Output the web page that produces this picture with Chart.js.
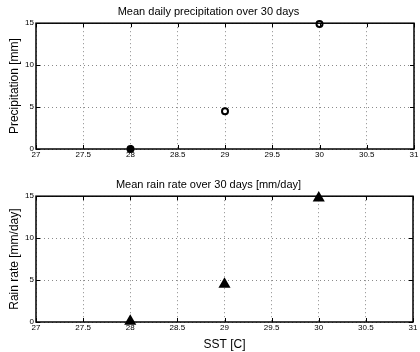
<!DOCTYPE html>
<html>
<head>
<meta charset="utf-8">
<script src="https://cdn.jsdelivr.net/npm/chart.js@4/dist/chart.umd.min.js"></script>
<style>
  html, body { margin: 0; padding: 0; background: #fff; }
  .panel { position: absolute; left: 0; width: 420px; height: 176px; }
  #top { top: 0; }
  #bottom { top: 176px; }
</style>
</head>
<body>
<div class="panel" id="top"><canvas id="precipChart"></canvas></div>
<div class="panel" id="bottom"><canvas id="rainChart"></canvas></div>
<script>
// data
const sst = [28, 29, 30];
const precip = [0.0, 4.5, 14.9];
const rainRate = [0.1, 4.5, 14.8];
const xTicks = [27, 27.5, 28, 28.5, 29, 29.5, 30, 30.5, 31];
const yTicks = [0, 5, 10, 15];

const FONT = 'Liberation Sans, Arial, Helvetica, sans-serif';

// box frame + inward ticks, like matlab axes
const boxPlugin = {
    id: 'box',
    afterDraw(chart) {
        const ctx = chart.ctx;
        const a = chart.chartArea;
        const xs = chart.scales.x, ys = chart.scales.y;
        ctx.save();
        ctx.strokeStyle = '#000';
        ctx.lineWidth = 1;
        ctx.setLineDash([]);
        ctx.beginPath();
        xTicks.forEach(v => {
            const px = Math.round(xs.getPixelForValue(v)) + 0.5;
            ctx.moveTo(px, a.bottom); ctx.lineTo(px, a.bottom - 4);
            ctx.moveTo(px, a.top); ctx.lineTo(px, a.top + 4);
        });
        yTicks.forEach(v => {
            const py = Math.round(ys.getPixelForValue(v)) + 0.5;
            ctx.moveTo(a.left, py); ctx.lineTo(a.left + 4, py);
            ctx.moveTo(a.right, py); ctx.lineTo(a.right - 4, py);
        });
        ctx.stroke();
        ctx.lineWidth = 1.5;
        ctx.strokeRect(a.left, a.top, a.right - a.left, a.bottom - a.top);
        ctx.restore();
    }
};

function makeOptions(title, titlePad, yTitle, xTitle, xHeight) {
    return {
        responsive: true,
        maintainAspectRatio: false,
        animation: false,
        layout: { padding: { left: 0, right: 3, top: 0, bottom: 0 } },
        plugins: {
            legend: { display: false },
            tooltip: { enabled: false },
            title: {
                display: true,
                text: title,
                color: '#000',
                font: { family: FONT, size: 11, weight: 'normal' },
                padding: titlePad
            }
        },
        scales: {
            x: {
                type: 'linear',
                min: 27, max: 31,
                afterBuildTicks: s => { s.ticks = xTicks.map(v => ({ value: v })); },
                afterFit: s => { s.height = xHeight; s.paddingLeft = 0; s.paddingRight = 0; },
                ticks: {
                    color: '#000',
                    font: { family: FONT, size: 8 },
                    padding: 1,
                    maxRotation: 0,
                    callback: v => String(v)
                },
                grid: { color: '#8a8a8a', lineWidth: 1, drawTicks: false },
                border: { display: false, dash: [1, 3] },
                title: xTitle ? {
                    display: true, text: xTitle, color: '#000',
                    font: { family: FONT, size: 12 }, padding: { top: 0, bottom: 0 }
                } : { display: false }
            },
            y: {
                min: 0, max: 15,
                afterBuildTicks: s => { s.ticks = yTicks.map(v => ({ value: v })); },
                afterFit: s => { s.width = 36; s.paddingTop = 0; s.paddingBottom = 0; },
                ticks: {
                    color: '#000',
                    font: { family: FONT, size: 8 },
                    padding: 2
                },
                grid: { color: '#8a8a8a', lineWidth: 1, drawTicks: false },
                border: { display: false, dash: [1, 3] },
                title: {
                    display: true, text: yTitle, color: '#000',
                    font: { family: FONT, size: 12 }, padding: { top: 7, bottom: 0 }
                }
            }
        }
    };
}

function scatterData(values, style, radius, bg) {
    return {
        datasets: [{
            data: sst.map((x, i) => ({ x: x, y: values[i] })),
            showLine: false,
            pointStyle: style,
            pointRadius: radius,
            pointBorderWidth: 2,
            pointBorderColor: '#000',
            pointBackgroundColor: bg,
            clip: false
        }]
    };
}

function renderPrecipChart() {
    const opts = makeOptions('Mean daily precipitation over 30 days', { top: 5, bottom: 5 },
        'Precipitation [mm]', null, 27);
    new Chart(document.getElementById('precipChart'), {
        type: 'scatter',
        data: scatterData(precip, 'circle', 3, ['#000', '#fff', '#fff']),
        options: opts,
        plugins: [boxPlugin]
    });
}

function renderRainChart() {
    const opts = makeOptions('Mean rain rate over 30 days [mm/day]', { top: 2, bottom: 5 },
        'Rain rate [mm/day]', 'SST [C]', 30);
    new Chart(document.getElementById('rainChart'), {
        type: 'scatter',
        data: scatterData(rainRate, 'triangle', 5, '#000'),
        options: opts,
        plugins: [boxPlugin]
    });
}

renderPrecipChart();
renderRainChart();
</script>
</body>
</html>
